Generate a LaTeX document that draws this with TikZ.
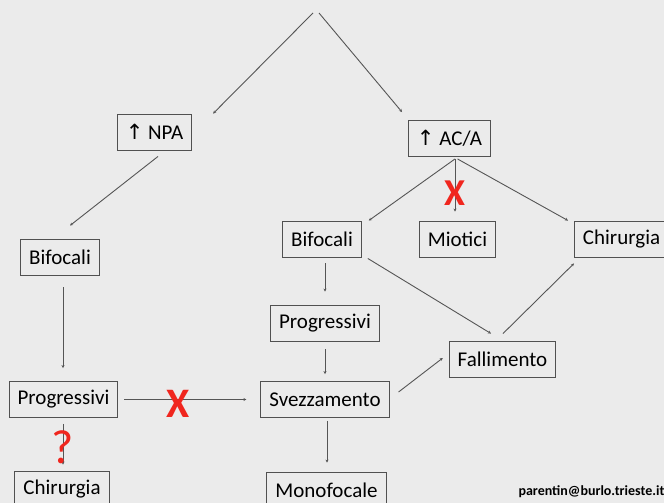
\documentclass[tikz,border=0pt]{standalone}
\usepackage{fontspec}
\setmainfont{Carlito}
\newfontfamily\arrowfont{DejaVu Sans}
\usepackage{xcolor}
\usepackage{tikz}
\usetikzlibrary{arrows.meta}
\definecolor{slidebg}{RGB}{235,235,235}
\definecolor{boxline}{RGB}{80,80,80}
\definecolor{linkgray}{RGB}{85,85,85}
\definecolor{markred}{RGB}{240,38,30}
\newcommand{\up}{{\arrowfont\char"2191}}
\tikzset{
  stepbox/.style = {draw=boxline, line width=0.9pt, fill=slidebg, inner xsep=8.5pt,
                    minimum height=36pt, font=\fontsize{21}{25}\selectfont},
  link/.style    = {draw=linkgray, line width=0.9pt, -{Stealth[length=3pt,width=3pt]}},
  cross/.style   = {text=markred, font=\fontsize{42}{42}\selectfont\bfseries},
  mail/.style    = {font=\fontsize{14}{17}\selectfont\bfseries}
}
\begin{document}
\begin{tikzpicture}[x=1pt,y=-1pt]
  % page: 664 x 503, coordinates in pixels from the top left corner
  \fill[slidebg] (0,0) rectangle (664,503);
  \useasboundingbox (0,0) rectangle (664,503);
  \coordinate (topL) at (313,13);
  \coordinate (topR) at (319,13);
  % left branch
  \node[stepbox] (npa)   at (154.5,132)  {\up\ NPA};
  \node[stepbox] (bifL)  at (60,257)     {Bifocali};
  \node[stepbox] (progL) at (63.5,399.5) {Progressivi};
  \node[stepbox] (chirL) at (62,489)     {Chirurgia};
  % right branch
  \node[stepbox] (aca)   at (449.5,138.5){\up\ AC/A};
  \node[stepbox] (bifM)  at (322,239)    {Bifocali};
  \node[stepbox] (miot)  at (457.5,239)  {Miotici};
  \node[stepbox, anchor=west] (chirR) at (574,239) {Chirurgia\hspace*{12pt}};
  \node[stepbox] (progM) at (325,323)    {Progressivi};
  \node[stepbox] (svez)  at (325,399.5)  {Svezzamento};
  \node[stepbox] (mono)  at (326.5,490)  {Monofocale};
  \node[stepbox] (fall)  at (502.5,359)  {Fallimento};
  % links
  \draw[link] (topL) -- ([shift={(21,0)}]npa.north east);
  \draw[link] (topR) -- ([shift={(-6,-8)}]aca.north west);
  \draw[link] ([shift={(3.5,6)}]npa.south) -- ([shift={(10,-13)}]bifL.north);
  \draw[link] ([shift={(3,12)}]bifL.south) -- ([shift={(-0.5,-13)}]progL.north);
  \draw[link] ([shift={(6,0)}]progL.east) -- ([shift={(-14,0)}]svez.west);
  \draw[link] ([shift={(-0.5,6)}]progL.south) -- ([shift={(1,-6)}]chirL.north);
  \draw[link] ([shift={(5.5,2)}]aca.south) -- ([shift={(7,0)}]bifM.north east);
  \draw[link] ([shift={(5.5,2)}]aca.south) -- ([shift={(-2.5,-9)}]miot.north);
  \draw[link] ([shift={(8,2)}]aca.south) -- ([shift={(-6,0)}]chirR.north west);
  \draw[link] ([shift={(3,6)}]bifM.south) -- ([shift={(0,-13)}]progM.north);
  \draw[link] ([shift={(6,1)}]bifM.south east) -- ([shift={(-11.5,-7)}]fall.north);
  \draw[link] ([shift={(0,8)}]progM.south) -- ([shift={(0,-7)}]svez.north);
  \draw[link] ([shift={(9,-7.5)}]svez.east) -- ([shift={(-6,-1)}]fall.west);
  \draw[link] ([shift={(0.5,-7)}]fall.north) -- ([shift={(0,6)}]chirR.south west);
  \draw[link] ([shift={(2,3)}]svez.south) -- ([shift={(0.5,-9)}]mono.north);
  % red marks
  \node[cross] (noprog) at (178,404) {X};
  \node[cross, font=\fontsize{38}{38}\selectfont\bfseries] (nomiot) at (455,193) {X};
  \node[cross, font=\fontsize{48}{48}\selectfont] (maybe) at (63,447) {?};
  \node[mail, anchor=base west] (mail) at (515,495) {parentin@burlo.trieste.it};
\end{tikzpicture}
\end{document}
